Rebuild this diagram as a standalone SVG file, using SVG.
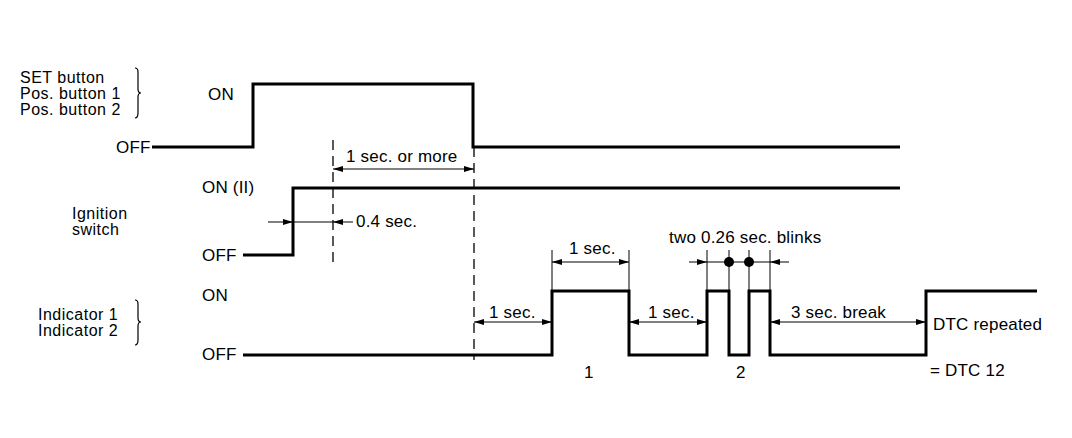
<svg xmlns="http://www.w3.org/2000/svg" width="1072" height="438" viewBox="0 0 1072 438">
<defs>
<style>
text{font-family:"Liberation Sans",Arial,sans-serif;font-size:17px;letter-spacing:0.2px;fill:#000}
.stack{font-size:16px;letter-spacing:0.5px}
.sig{fill:none;stroke:#000;stroke-width:3;stroke-linejoin:miter}
.dim{fill:none;stroke:#000;stroke-width:1}
.dash{fill:none;stroke:#000;stroke-width:1.3;stroke-dasharray:10 6}
.brace{fill:none;stroke:#000;stroke-width:1.2}
</style>
<marker id="ah" viewBox="0 0 10 6" refX="10" refY="3" markerWidth="10" markerHeight="6" markerUnits="userSpaceOnUse" orient="auto-start-reverse">
<path d="M0,0 L10,3 L0,6 Z" fill="#000"/>
</marker>
</defs>
<rect width="1072" height="438" fill="#fff"/>

<g id="labels-buttons">
<text class="stack" x="20" y="83">SET button</text>
<text class="stack" x="20" y="99">Pos. button 1</text>
<text class="stack" x="20" y="115">Pos. button 2</text>
<path class="brace" d="M135,68 Q138,68 138,72 L138,89 Q138,93 141,93 Q138,93 138,97 L138,113 Q138,118 135,118"/>
<text x="208" y="100">ON</text>
<text x="116" y="153">OFF</text>
</g>

<g id="labels-ignition">
<text x="202" y="193">ON (II)</text>
<text class="stack" x="72" y="219">Ignition</text>
<text class="stack" x="72" y="235">switch</text>
<text x="202" y="261">OFF</text>
</g>

<g id="labels-indicator">
<text x="202" y="301">ON</text>
<text class="stack" x="38" y="320">Indicator 1</text>
<text class="stack" x="38" y="336">Indicator 2</text>
<path class="brace" d="M135,300 Q138,300 138,304 L138,318 Q138,322 141,322 Q138,322 138,326 L138,340 Q138,345 135,345"/>
<text x="202" y="360">OFF</text>
</g>

<g id="signal-buttons">
<path class="sig" d="M152,147 H253 V84 H473 V147 H900"/>
</g>
<g id="signal-ignition">
<path class="sig" d="M243,255 H293 V188 H900"/>
</g>
<g id="signal-indicator">
<path class="sig" d="M243,355 H552 V291 H629 V355 H707 V291 H729 V355 H749 V291 H770 V355 H926 V291 H1037"/>
</g>

<g id="connectors">
<line class="dash" x1="333" y1="140" x2="333" y2="262"/>
<line class="dash" x1="474" y1="147" x2="474" y2="360"/>
<line class="dim" x1="333" y1="169" x2="474" y2="169" marker-start="url(#ah)" marker-end="url(#ah)"/>
<line class="dim" x1="268" y1="222" x2="293" y2="222" marker-end="url(#ah)"/>
<line class="dim" x1="293" y1="222" x2="333" y2="222"/>
<line class="dim" x1="353" y1="222" x2="333" y2="222" marker-end="url(#ah)"/>
<line class="dim" x1="552" y1="250" x2="552" y2="291"/>
<line class="dim" x1="629" y1="250" x2="629" y2="291"/>
<line class="dim" x1="552" y1="262" x2="629" y2="262" marker-start="url(#ah)" marker-end="url(#ah)"/>
<line class="dim" x1="474" y1="322" x2="552" y2="322" marker-start="url(#ah)" marker-end="url(#ah)"/>
<line class="dim" x1="629" y1="322" x2="707" y2="322" marker-start="url(#ah)" marker-end="url(#ah)"/>
<line class="dim" x1="770" y1="322" x2="926" y2="322" marker-start="url(#ah)" marker-end="url(#ah)"/>
<line class="dim" x1="707" y1="250" x2="707" y2="291"/>
<line class="dim" x1="729" y1="250" x2="729" y2="291"/>
<line class="dim" x1="749" y1="250" x2="749" y2="291"/>
<line class="dim" x1="770" y1="250" x2="770" y2="291"/>
<line class="dim" x1="689" y1="262" x2="707" y2="262" marker-end="url(#ah)"/>
<line class="dim" x1="707" y1="262" x2="770" y2="262"/>
<line class="dim" x1="789" y1="262" x2="770" y2="262" marker-end="url(#ah)"/>
<circle cx="729" cy="262" r="5" fill="#000"/>
<circle cx="749" cy="262" r="5" fill="#000"/>
</g>

<g id="dimension-labels">
<text x="346" y="162">1 sec. or more</text>
<text x="356" y="227">0.4 sec.</text>
<text x="569" y="254">1 sec.</text>
<text x="489" y="318">1 sec.</text>
<text x="648" y="318">1 sec.</text>
<text x="669" y="243">two 0.26 sec. blinks</text>
<text x="791" y="318">3 sec. break</text>
<text x="933" y="330">DTC repeated</text>
<text x="930" y="376">= DTC 12</text>
<text x="584" y="378">1</text>
<text x="736" y="378">2</text>
</g>
</svg>
